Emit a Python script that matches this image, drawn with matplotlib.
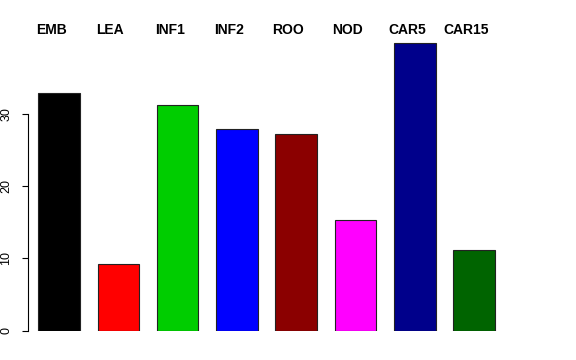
import matplotlib
matplotlib.use('Agg')
import matplotlib.pyplot as plt

tissues = ['EMB', 'LEA', 'INF1', 'INF2', 'ROO', 'NOD', 'CAR5', 'CAR15']
values = [32.9, 9.2, 31.2, 27.9, 27.2, 15.3, 39.8, 11.2]
colors = ['#000000', '#FF0000', '#00CD00', '#0000FF', '#8B0000', '#FF00FF', '#00008B', '#006400']

plt.rcParams['font.family'] = ['Liberation Sans', 'DejaVu Sans']

fig = plt.figure(figsize=(5.76, 3.6), dpi=100)
ax = fig.add_axes([28/576, (360-330.6)/360, (548-28)/576, (330.6-20)/360])

x = list(range(len(tissues)))
ax.bar(x, values, width=0.70, color=colors, edgecolor='#222222', linewidth=0.8)

ax.set_xlim(-0.523, 8.246)
ax.set_ylim(0, 42.96)

for i, name in enumerate(tissues):
    ax.text(i - 0.135, 41.6, name, ha='center', va='center',
            fontsize=10, fontweight='bold', clip_on=False)

for s in ['top', 'right', 'bottom']:
    ax.spines[s].set_visible(False)
ax.spines['left'].set_bounds(0, 30)
ax.spines['left'].set_linewidth(0.8)
ax.set_xticks([])
ax.set_yticks([0, 10, 20, 30])
ax.tick_params(axis='y', length=4.3, width=0.8, pad=7, labelsize=9)
for lab in ax.get_yticklabels():
    lab.set_rotation(90)
    lab.set_va('center')

fig.savefig('out.png', dpi=100)
